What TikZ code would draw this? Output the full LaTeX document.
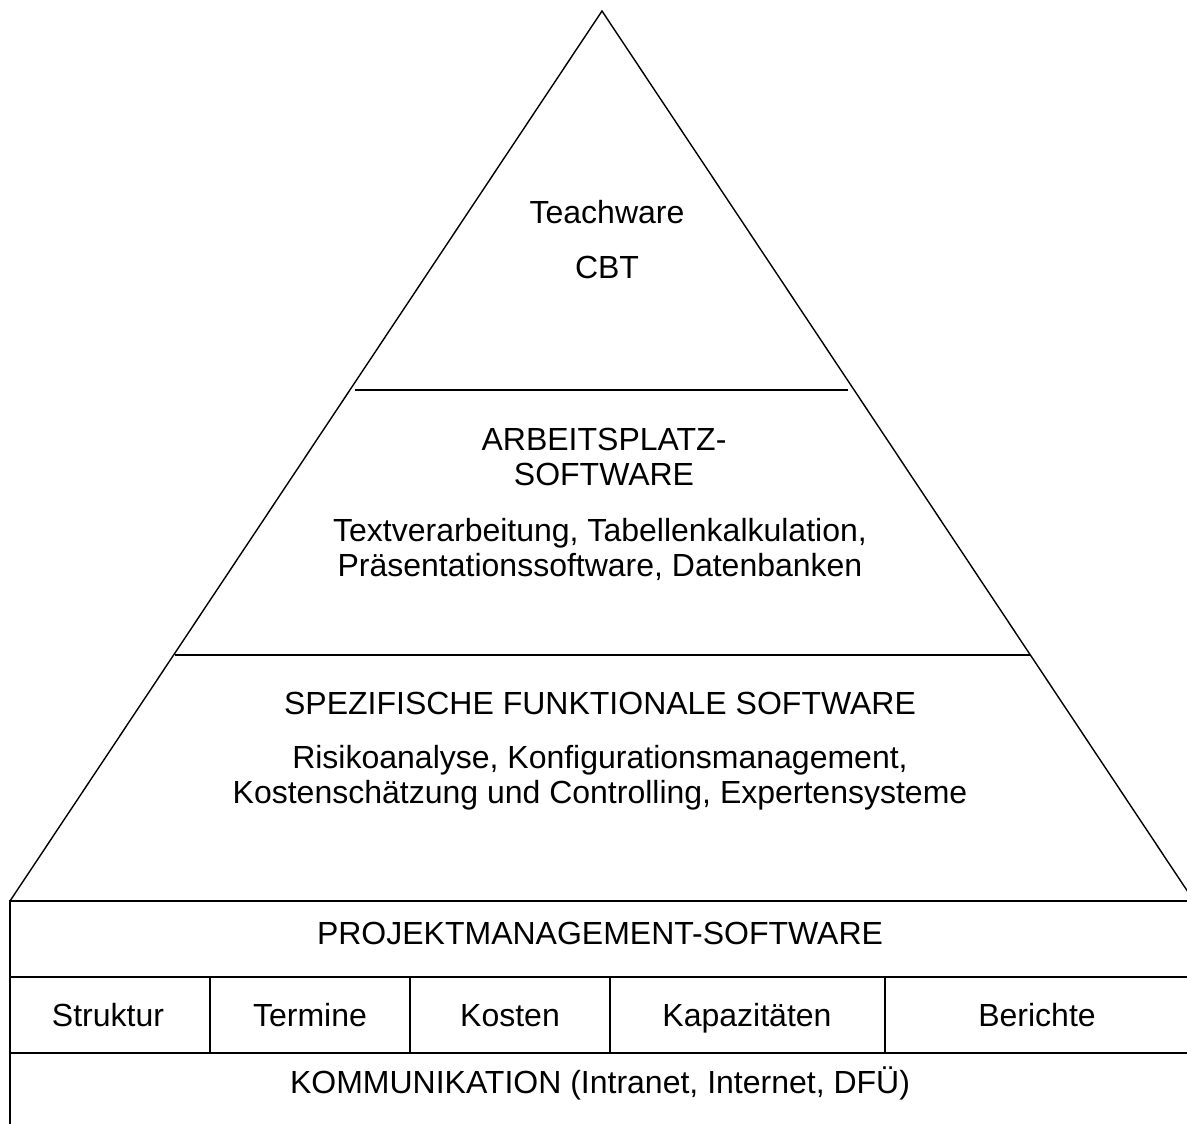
\documentclass[tikz,border=0pt]{standalone}
\usepackage{fontspec}
\setmainfont{Liberation Sans}
\usetikzlibrary{calc}

\begin{document}
\begin{tikzpicture}[
  x=1pt, y=-1pt,
  font=\fontsize{32}{35}\selectfont,
  edgeline/.style={draw, line width=1.4pt},
  boxline/.style={draw, line width=1.6pt},
  layertext/.style={align=center, inner sep=0pt, text height=0.716em, text depth=0pt},
]
\useasboundingbox (0,0) rectangle (1187,1124);
\clip (0,0) rectangle (1187,1124);

% --- pyramid ---
\coordinate (apex) at (602,11);
\coordinate (baseL) at (10,901);
\coordinate (baseR) at (1194,901);
\draw[edgeline] (baseL) -- (apex) -- (baseR);

% layer borders
\draw[edgeline] (355,390) -- (848,390);
\draw[edgeline] (175,655) -- (1030,655);

% --- pyramid texts ---
\node[layertext] (teach) at (607,220) {Teachware};
\node[layertext] (cbt) at (607,275) {CBT};
\node[layertext] (arbeit) at (604,482) {ARBEITSPLATZ-\\SOFTWARE};
\node[layertext] (arbeitsub) at (600,573)
  {Textverarbeitung, Tabellenkalkulation,\\Präsentationssoftware, Datenbanken};
\node[layertext] (spez) at (600,711) {SPEZIFISCHE FUNKTIONALE SOFTWARE};
\node[layertext] (spezsub) at (600,800)
  {Risikoanalyse, Konfigurationsmanagement,\\Kostenschätzung und Controlling, Expertensysteme};

% --- base block ---
\draw[boxline] (10,1124) -- (10,901) -- (1187,901);
\draw[boxline] (10,977) -- (1187,977);
\draw[boxline] (10,1053) -- (1187,1053);
\foreach \x in {210,410,610,885} {
  \draw[boxline] (\x,977) -- (\x,1053);
}

\node[layertext] (pm) at (600,941) {PROJEKTMANAGEMENT-SOFTWARE};
\node[layertext] (struktur) at (108,1023) {Struktur};
\node[layertext] (termine) at (310,1023) {Termine};
\node[layertext] (kosten) at (510,1023) {Kosten};
\node[layertext] (kapaz) at (747,1023) {Kapazitäten};
\node[layertext] (bericht) at (1037,1023) {Berichte};
\node[layertext] (komm) at (600,1090) {KOMMUNIKATION (Intranet, Internet, DFÜ)};

\end{tikzpicture}
\end{document}
